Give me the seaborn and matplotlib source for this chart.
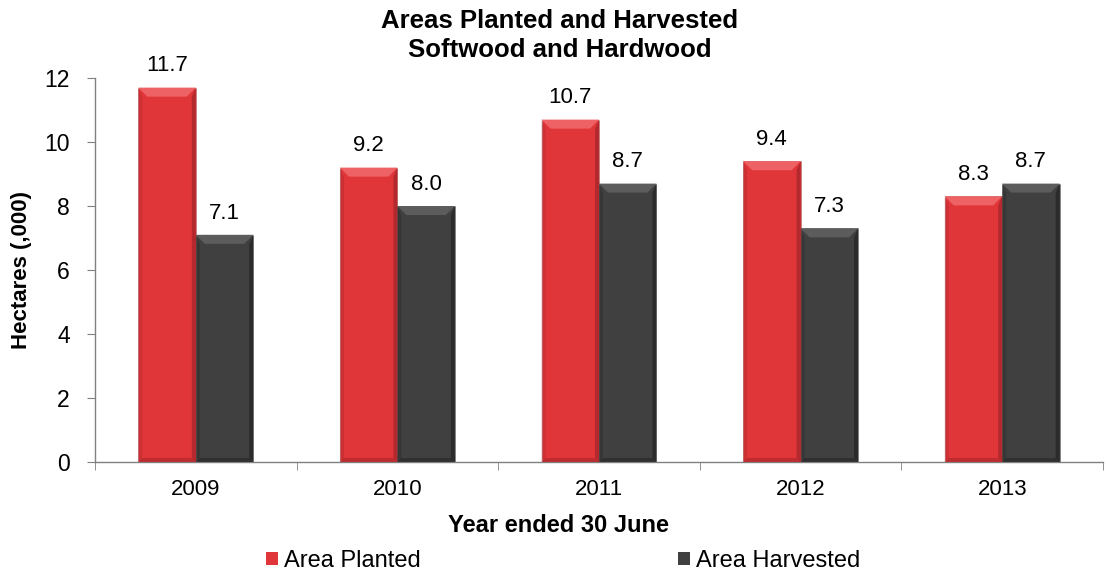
import matplotlib
matplotlib.use("Agg")
import matplotlib.pyplot as plt
import seaborn as sns
import pandas as pd
import numpy as np
from matplotlib.ticker import FixedLocator
from matplotlib.patches import Patch, Polygon
from matplotlib.transforms import IdentityTransform

years = ["2009", "2010", "2011", "2012", "2013"]
planted = [11.7, 9.2, 10.7, 9.4, 8.3]
harvested = [7.1, 8.0, 8.7, 7.3, 8.7]
series = ["Area Planted", "Area Harvested"]
colors = ["#E0363A", "#404040"]
light = ["#EE6266", "#5C5C5C"]
dark = ["#A8262A", "#262626"]

df = pd.DataFrame({
    "Year": years * 2,
    "Value": planted + harvested,
    "Series": [series[0]] * len(years) + [series[1]] * len(years),
})

sns.set_style("white")
plt.rcParams["font.family"] = ["Liberation Sans", "DejaVu Sans"]
plt.rcParams["text.color"] = "black"
plt.rcParams["axes.labelcolor"] = "black"
plt.rcParams["xtick.color"] = "black"
plt.rcParams["ytick.color"] = "black"

W, H = 1109, 574
fig = plt.figure(figsize=(W / 100, H / 100), dpi=100)
ax = fig.add_axes([95 / W, 1 - 462 / H, (1103 - 95) / W, 384 / H])

sns.barplot(data=df, x="Year", y="Value", hue="Series", palette=colors,
            width=0.57, ax=ax, legend=False, saturation=1,
            edgecolor="#00000030", linewidth=0.6)

for cont in ax.containers:
    labels = [f"{v:.1f}" for v in cont.datavalues]
    ax.bar_label(cont, labels=labels, padding=8, fontsize=16, color="black")

ax.set_ylim(0, 12)
ax.set_yticks(np.arange(0, 13, 2))
ax.set_xlim(-0.5, len(years) - 0.5)
ax.xaxis.set_minor_locator(FixedLocator(np.arange(-0.5, len(years), 1.0)))
ax.tick_params(axis="x", which="major", length=0, pad=12, labelsize=16, labelcolor="black")
ax.tick_params(axis="x", which="minor", length=6, direction="out", color="#808080", bottom=True)
ax.tick_params(axis="y", length=6, direction="out", color="#808080", left=True, labelsize=16.5,
               pad=12, labelcolor="black")

for s in ["top", "right"]:
    ax.spines[s].set_visible(False)
for s in ["left", "bottom"]:
    ax.spines[s].set_color("#808080")
    ax.spines[s].set_linewidth(1)

ax.set_xlabel("Year ended 30 June", fontsize=17, fontweight="bold", color="black")
ax.xaxis.set_label_coords((558 - 95) / 1008, -(526 - 462) / 384)
ax.xaxis.label.set_va("center")
ax.set_ylabel("Hectares (,000)", fontsize=16, fontweight="bold", color="black")
ax.yaxis.set_label_coords(-(95 - 22) / 1008, 0.5)
ax.yaxis.label.set_va("center")

fig.text(560 / W, 1 - 28 / H, "Areas Planted and Harvested", ha="center", va="baseline",
         fontsize=18.5, fontweight="bold", color="black")
fig.text(560 / W, 1 - 57 / H, "Softwood and Hardwood", ha="center", va="baseline",
         fontsize=18.5, fontweight="bold", color="black")

handles = [Patch(facecolor=c, edgecolor="none") for c in colors]
fig.legend(handles, series, loc="center", bbox_to_anchor=(563 / W, 1 - 561 / H), ncol=2,
           frameon=False, fontsize=17, columnspacing=10.9, handlelength=0.5,
           handleheight=0.5, handletextpad=0.25, labelcolor="black")

# bevel shading derived from the drawn bar patches
fig.canvas.draw()
for ci, cont in enumerate(ax.containers):
    for p in cont.patches:
        bb = p.get_window_extent()
        x0, x1, y0, y1 = bb.x0, bb.x1, bb.y0, bb.y1
        t, s = 9, 4
        polys = [
            ([(x0, y1), (x1, y1), (x1 - t, y1 - t), (x0 + t, y1 - t)], light[ci], 1.0),
            ([(x1, y1), (x1, y0), (x1 - s, y0 + s), (x1 - s, y1 - t)], dark[ci], 0.8),
            ([(x0, y1), (x0, y0), (x0 + s, y0 + s), (x0 + s, y1 - t)], dark[ci], 0.35),
            ([(x0, y0), (x1, y0), (x1 - s, y0 + s), (x0 + s, y0 + s)], dark[ci], 0.6),
        ]
        for pts, col, a in polys:
            fig.patches.append(Polygon(pts, closed=True, facecolor=col, edgecolor="none",
                                       alpha=a, transform=IdentityTransform(), figure=fig))

fig.savefig("out.png", dpi=100)
